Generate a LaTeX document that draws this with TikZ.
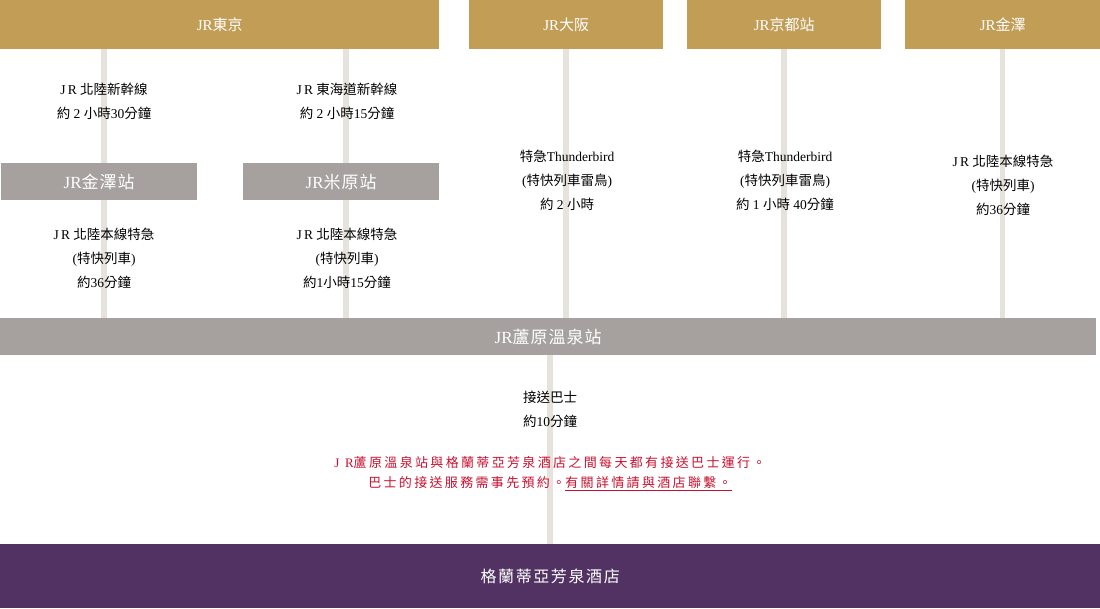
\documentclass[tikz,border=0pt]{standalone}
\usepackage{fontspec}
\setmainfont{Liberation Serif}
\newfontfamily\cjk{Noto Sans CJK TC}
\usetikzlibrary{positioning}
\definecolor{goldc}{HTML}{C19D56}
\definecolor{greyc}{HTML}{A6A19E}
\definecolor{railc}{HTML}{E6E2DC}
\definecolor{hotelc}{HTML}{513262}
\definecolor{notec}{HTML}{C8102E}
\newcommand{\zh}[1]{{\cjk #1}}
\newcommand{\zhs}[1]{{\cjk\addfontfeature{LetterSpace=18}#1}}
\newcommand{\zhg}[1]{{\cjk\addfontfeature{LetterSpace=6}#1}}

\begin{document}
\begin{tikzpicture}[x=1pt, y=-1pt, inner sep=0pt,
	goldbox/.style={fill=goldc, text=white, minimum height=49, anchor=north west,
		font=\fontsize{15}{17}\selectfont},
	greybox/.style={fill=greyc, text=white, minimum height=37, anchor=north west,
		font=\fontsize{17}{19}\selectfont},
	hotelbox/.style={fill=hotelc, text=white, minimum height=64, minimum width=1100,
		anchor=north west, font=\cjk\addfontfeature{LetterSpace=10}\fontsize{16}{18}\selectfont},
	rail/.style={draw=railc, line width=5.5pt},
	info/.style={align=center, font=\fontsize{13.5}{24}\selectfont},
	note/.style={align=center, text=notec, font=\fontsize{13}{20}\selectfont} ]
	\useasboundingbox (0,0) rectangle (1100,608);
	
	%Stations:
	\node[goldbox, minimum width=439] (tokyo)  at (0,0)   {JR\zh{東京}};
	\node[goldbox, minimum width=194] (osaka)  at (469,0) {JR\zh{大阪}};
	\node[goldbox, minimum width=194] (kyoto)  at (687,0) {JR\zh{京都站}};
	\node[goldbox, minimum width=195] (kanaz)  at (905,0) {JR\zh{金澤}};
	\node[greybox, minimum width=196] (kzst)   at (1,163)   {JR\zhg{金澤站}};
	\node[greybox, minimum width=196] (maibara) at (243,163) {JR\zhg{米原站}};
	\node[greybox, minimum width=1096] (awara) at (0,318)   {JR\zhg{蘆原溫泉站}};
	\node[hotelbox] (hotel) at (0,544) {格蘭蒂亞芳泉酒店};
	
	%Rails:
	\draw[rail] ([xshift=5]kzst.north) -- ([xshift=5]kzst.north |- tokyo.south);
	\draw[rail] ([xshift=5]maibara.north) -- ([xshift=5]maibara.north |- tokyo.south);
	\draw[rail] ([xshift=5]kzst.south) -- ([xshift=5]kzst.south |- awara.north);
	\draw[rail] ([xshift=5]maibara.south) -- ([xshift=5]maibara.south |- awara.north);
	\draw[rail] (osaka.south) -- (osaka.south |- awara.north);
	\draw[rail] (kyoto.south) -- (kyoto.south |- awara.north);
	\draw[rail] (kanaz.south) -- (kanaz.south |- awara.north);
	\draw[rail] (hotel.north |- awara.south) -- (hotel.north);
	
	%Lines and times:
	\node[info] (t1) at (104,101) {J\,R \zh{北陸新幹線}\\\zh{約} 2 \zh{小時}30\zh{分鐘}};
	\node[info] (t2) at (347,101) {J\,R \zh{東海道新幹線}\\\zh{約} 2 \zh{小時}15\zh{分鐘}};
	\node[info] (t3) at (104,258) {J\,R \zh{北陸本線特急}\\(\zh{特快列車})\\\zh{約}36\zh{分鐘}};
	\node[info] (t4) at (347,258) {J\,R \zh{北陸本線特急}\\(\zh{特快列車})\\\zh{約}1\zh{小時}15\zh{分鐘}};
	\node[info] (t5) at (567,180) {\zh{特急}Thunderbird\\(\zh{特快列車雷鳥})\\\zh{約} 2 \zh{小時}};
	\node[info] (t6) at (785,180) {\zh{特急}Thunderbird\\(\zh{特快列車雷鳥})\\\zh{約} 1 \zh{小時} 40\zh{分鐘}};
	\node[info] (t7) at (1003,185) {J\,R \zh{北陸本線特急}\\(\zh{特快列車})\\\zh{約}36\zh{分鐘}};
	\node[info] (bus) at (550,409) {\zh{接送巴士}\\\zh{約}10\zh{分鐘}};
	
	%Note:
	\node[note] (memo) at (550,474) {{\addfontfeature{LetterSpace=18}J R}\zhs{蘆原溫泉站與格蘭蒂亞芳泉酒店之間每天都有接送巴士運行。}\\
		\zhs{巴士的接送服務需事先預約。}\underline{\zhs{有關詳情請與酒店聯繫。}}};
\end{tikzpicture}
\end{document}
